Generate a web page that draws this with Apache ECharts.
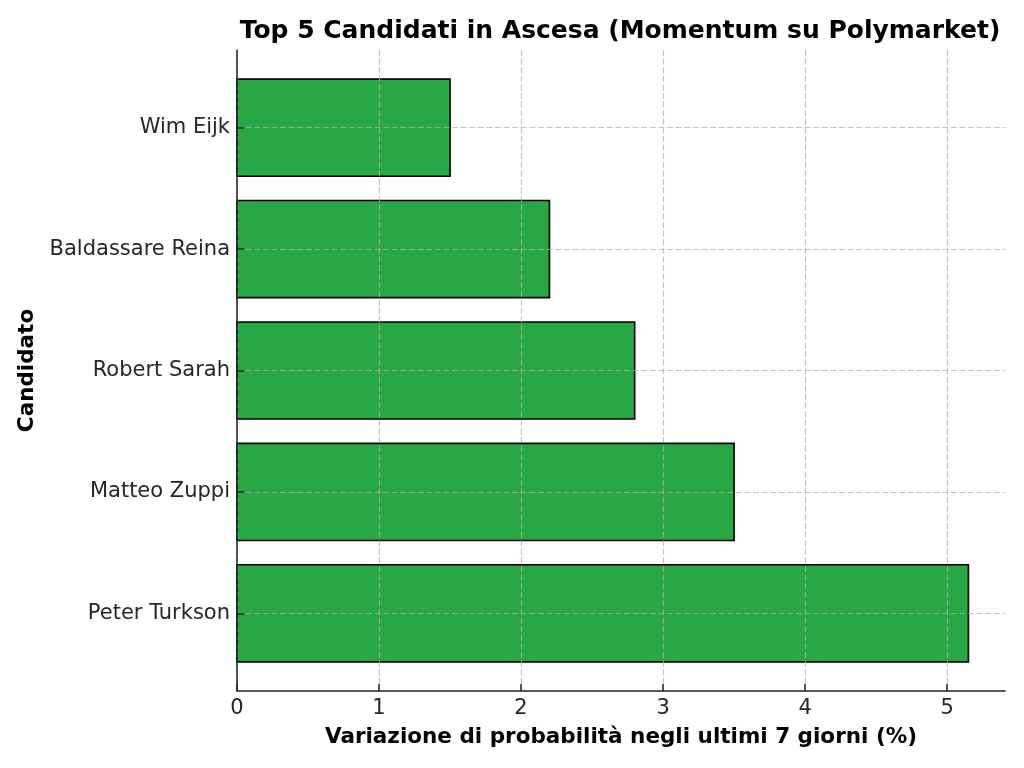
<!DOCTYPE html>
<html>
  <head>
    <meta charset="utf-8" />
    <script src="https://cdn.jsdelivr.net/npm/echarts@6/dist/echarts.min.js"></script>
    <style>
      html, body, #main { width: 100%; height: 100%; margin: 0; overflow: hidden; background: #fff; }
    </style>
  </head>
  <body>
    <div id="main"></div>
    <script type="text/javascript">
      // candidati dal basso verso l'alto (come matplotlib barh)
      var candidates = ['Peter Turkson', 'Matteo Zuppi', 'Robert Sarah', 'Baldassare Reina', 'Wim Eijk'];
      var changes = [5.15, 3.5, 2.8, 2.2, 1.5];
      var xTicks = [0, 1, 2, 3, 4, 5];
      var yTicks = [0, 1, 2, 3, 4];

      var chart = echarts.init(document.getElementById('main'));
      window.addEventListener('resize', function () { chart.resize(); });

      var font = 'DejaVu Sans';
      var gridLine = { show: true, lineStyle: { color: '#b0b0b0', type: [6, 2.6], width: 1.2, opacity: 0.75 } };

      var option = {
        animation: false,
        title: {
          text: 'Top 5 Candidati in Ascesa (Momentum su Polymarket)',
          left: 615, top: 14, textAlign: 'center',
          textStyle: { fontFamily: font, fontWeight: 'bold', fontSize: 25, color: '#000' }
        },
        grid: { left: 237, right: 19, top: 50, bottom: 77 },
        xAxis: {
          type: 'value', min: 0, max: 5.4075, z: 10,
          name: 'Variazione di probabilità negli ultimi 7 giorni (%)',
          nameLocation: 'middle', nameGap: 35,
          nameTextStyle: { fontFamily: font, fontWeight: 'bold', fontSize: 21.5, color: '#000' },
          axisLine: { onZero: false, lineStyle: { color: '#222', width: 1.5 } },
          axisTick: { inside: true, length: 7, customValues: xTicks, lineStyle: { color: '#222', width: 1.5 } },
          axisLabel: { customValues: xTicks, margin: 7, fontFamily: font, fontSize: 21, color: '#262626' },
          splitLine: gridLine
        },
        yAxis: {
          type: 'value', min: -0.64, max: 4.64, z: 10,
          name: 'Candidato', nameLocation: 'middle', nameRotate: 90, nameGap: 196,
          nameTextStyle: { fontFamily: font, fontWeight: 'bold', fontSize: 21.5, color: '#000' },
          axisLine: { show: true, onZero: false, lineStyle: { color: '#222', width: 1.5 } },
          axisTick: { show: true, inside: true, length: 7, customValues: yTicks, lineStyle: { color: '#222', width: 1.5 } },
          axisLabel: {
            customValues: yTicks, margin: 7, fontFamily: font, fontSize: 21, color: '#262626',
            formatter: function (v) { return candidates[Math.round(v)]; }
          },
          splitLine: gridLine
        },
        series: [{
          type: 'custom',
          data: changes.map(function (v, i) { return [v, i]; }),
          encode: { x: 0, y: 1 },
          renderItem: function (params, api) {
            var p0 = api.coord([0, api.value(1) + 0.4]);
            var p1 = api.coord([api.value(0), api.value(1) - 0.4]);
            return {
              type: 'rect',
              shape: { x: p0[0], y: p0[1], width: p1[0] - p0[0], height: p1[1] - p0[1] },
              style: { fill: '#28a745', stroke: '#000', lineWidth: 1.6 }
            };
          }
        }]
      };

      chart.setOption(option);
    </script>
  </body>
</html>
